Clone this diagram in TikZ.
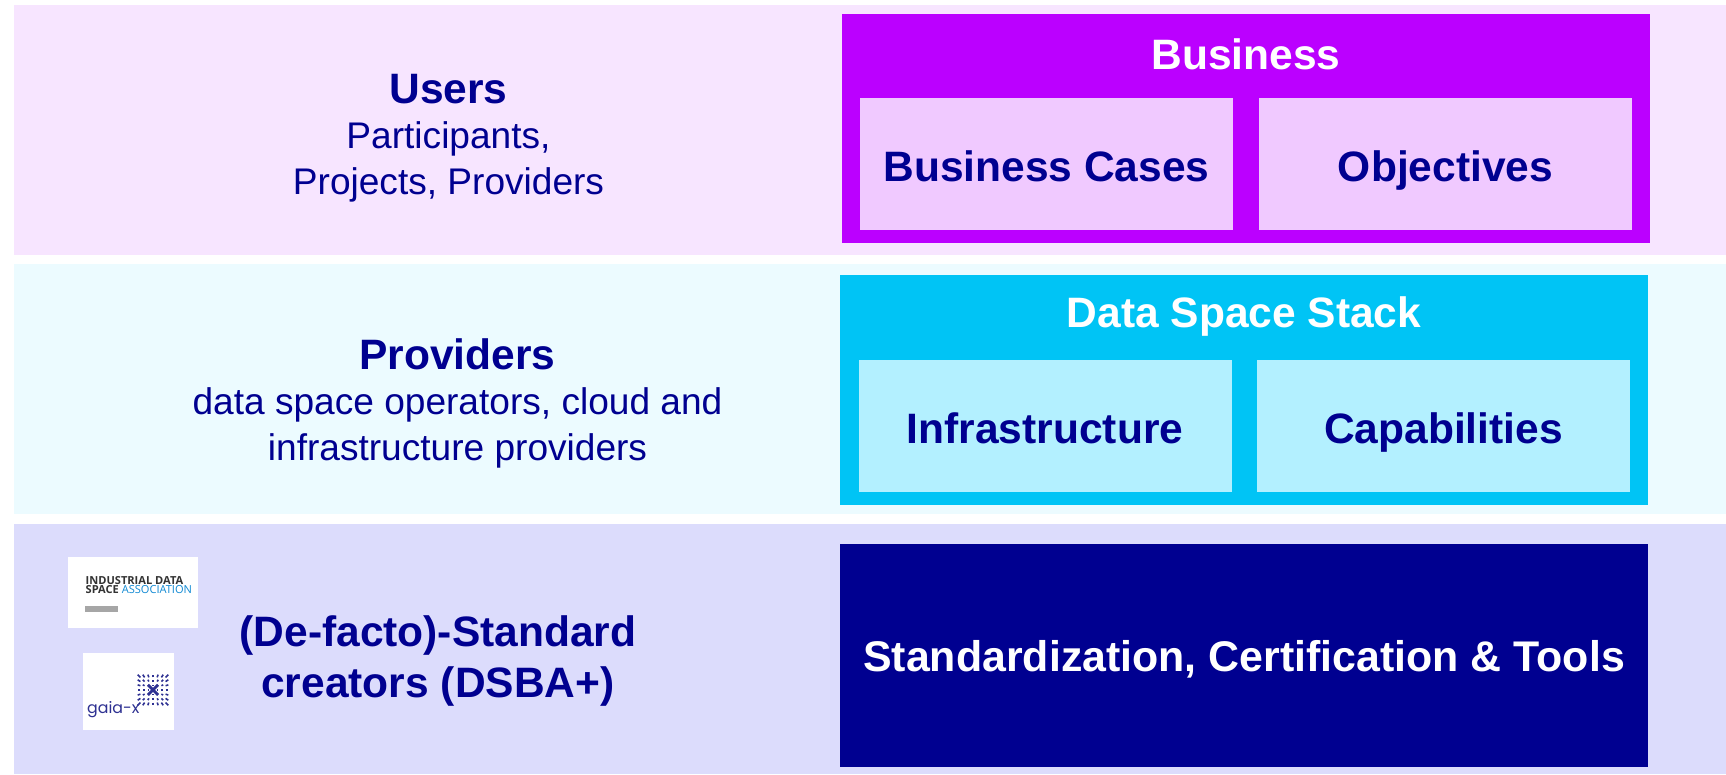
\documentclass[tikz,border=0pt]{standalone}
\usepackage{fontspec}
\setmainfont{Liberation Sans}
\newfontfamily\logofont{Open Sans}
\newfontfamily\gaiafont{Poppins}
\usepackage{xcolor}
\usepackage{tikz}
\usetikzlibrary{positioning}
\usetikzlibrary{calc}

\definecolor{navy}{HTML}{000090}
\definecolor{bandusers}{HTML}{F7E5FF}
\definecolor{bandproviders}{HTML}{ECFBFF}
\definecolor{bandcreators}{HTML}{DCDCFC}
\definecolor{business}{HTML}{BB00FF}
\definecolor{businesslight}{HTML}{F0C9FF}
\definecolor{stack}{HTML}{00C4F5}
\definecolor{stacklight}{HTML}{B3F0FF}
\definecolor{gaiablue}{HTML}{2E3192}

\begin{document}
\begin{tikzpicture}[
    band/.style={rectangle, inner sep=0pt, minimum width=17.12cm, minimum height=2.5cm},
    outerbox/.style={rectangle, inner sep=0pt, minimum width=8.08cm},
    innerbox/.style={rectangle, inner sep=0pt, minimum width=3.73cm, minimum height=1.32cm, text=navy, text height=0.4cm, text depth=0.05cm, font=\fontsize{12.1}{14}\selectfont\bfseries},
    title/.style={text=white, font=\fontsize{12.1}{14}\selectfont\bfseries},
    heading/.style={text=navy, align=center, font=\fontsize{12.1}{14.5}\selectfont\bfseries},
    caption/.style={text=navy, align=center, font=\fontsize{10.55}{13.1}\selectfont},
    logobox/.style={rectangle, fill=white, inner sep=0pt}
]
\useasboundingbox (0,0) rectangle (17.26,7.75);

% bands
\node[band, fill=bandusers] (users) at (8.70,6.45) {};
\node[band, fill=bandproviders] (providers) at (8.70,3.86) {};
\node[band, fill=bandcreators] (creators) at (8.70,1.26) {};

% left column
\node[heading] (usershead) at (4.485,6.86) {Users};
\node[caption, below=-0.07cm of usershead] (userstext) {Participants,\\Projects, Providers};
\node[heading] (providershead) at (4.575,4.21) {Providers};
\node[caption, below=-0.07cm of providershead] (providerstext) {data space operators, cloud and\\infrastructure providers};
\node[heading] (creatorshead) at (4.38,1.14) {(De-facto)-Standard\\creators (DSBA+)};

% business
\node[outerbox, fill=business, minimum height=2.295cm] (business) at (12.46,6.4625) {};
\node[title] (businesstitle) at (12.46,7.21) {Business};
\node[innerbox, fill=businesslight] (cases) at (10.465,6.11) {Business Cases};
\node[innerbox, fill=businesslight] (objectives) at (14.455,6.11) {Objectives};

% data space stack
\node[outerbox, fill=stack, minimum height=2.30cm] (stack) at (12.44,3.85) {};
\node[title] (stacktitle) at (12.44,4.585) {Data Space Stack};
\node[innerbox, fill=stacklight] (infra) at (10.45,3.49) {Infrastructure};
\node[innerbox, fill=stacklight] (capa) at (14.435,3.49) {Capabilities};

% standardization
\node[outerbox, fill=navy, minimum height=2.23cm, text=white, text height=0.4cm, text depth=0.07cm, font=\fontsize{12.2}{14}\selectfont\bfseries] (tools) at (12.44,1.195) {Standardization, Certification \& Tools};

% logos
\node[logobox, minimum width=1.30cm, minimum height=0.71cm] (idsa) at (1.33,1.825) {};
\node[anchor=north west, inner sep=0pt, align=left, text=black!80, font=\fontsize{3.15}{2.6}\selectfont\logofont\bfseries] (idsatext) at (0.85,1.99) {INDUSTRIAL DATA\\SPACE \textcolor{cyan!70!blue}{\mdseries ASSOCIATION}};
\fill[black!35] (0.85,1.69) rectangle (1.18,1.63);
\node[logobox, minimum width=0.91cm, minimum height=0.77cm] (gaia) at (1.285,0.835) {};
\node[anchor=south west, inner sep=0pt, text=gaiablue, font=\fontsize{4.5}{5}\selectfont\gaiafont] (gaiatext) at (0.865,0.57) {gaia-x};
\coordinate (gaiagrid) at (1.53,0.85);
\foreach \i in {-3,...,3} {
  \foreach \j in {-3,...,3} {
    \draw[gaiablue, line width=0.45pt] ($(gaiagrid)+(0.042*\i,0.042*\j)$) -- ++(0.009*\i,0.009*\j);
  }
}
\draw[gaiablue, line width=0.8pt] ($(gaiagrid)+(-0.05,-0.05)$) -- ($(gaiagrid)+(0.05,0.05)$);
\draw[gaiablue, line width=0.8pt] ($(gaiagrid)+(-0.05,0.05)$) -- ($(gaiagrid)+(0.05,-0.05)$);

\end{tikzpicture}
\end{document}
